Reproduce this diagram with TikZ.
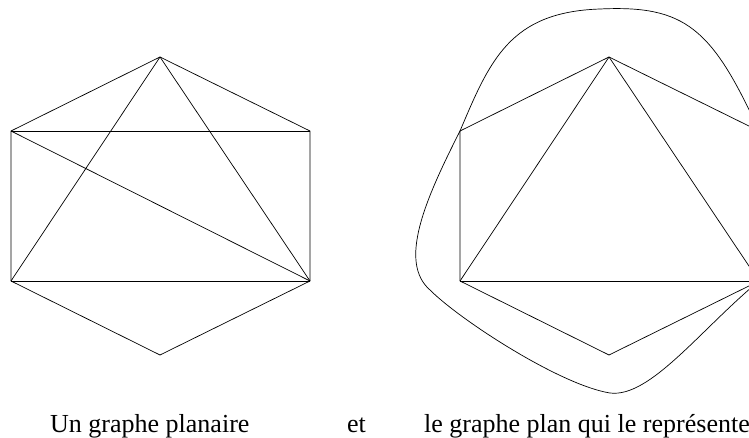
\documentclass[tikz,border=0pt]{standalone}
\usepackage{fontspec}
\setmainfont{Liberation Serif}
\begin{document}
\begin{tikzpicture}[x=1pt,y=-1pt,
  edge/.style={draw=black,line width=0.7pt,line join=round},
  lbl/.style={anchor=base west,inner sep=0pt,font=\fontsize{26}{30}\selectfont}]
\useasboundingbox (0,0) rectangle (749,438);
\clip (0,0) rectangle (749,438);
% left graph
\coordinate (aT) at (160,57);
\coordinate (aUL) at (11,131);
\coordinate (aUR) at (310,131);
\coordinate (aLL) at (11,281);
\coordinate (aLR) at (310,281);
\coordinate (aB) at (160,355);
\draw[edge] (aT) -- (aUL) -- (aLL) -- (aB) -- (aLR) -- (aUR) -- (aT);
\draw[edge] (aUL) -- (aUR);
\draw[edge] (aLL) -- (aLR);
\draw[edge] (aT) -- (aLL);
\draw[edge] (aT) -- (aLR);
\draw[edge] (aUL) -- (aLR);
% right graph
\coordinate (bT) at (609,57);
\coordinate (bUL) at (460,131);
\coordinate (bUR) at (759,131);
\coordinate (bLL) at (460,281);
\coordinate (bLR) at (759,281);
\coordinate (bB) at (609,355);
\coordinate (cTop) at (600,9);
\coordinate (cLeft) at (430,290);
\coordinate (cBot) at (610,393);
\draw[edge] (bT) -- (bUL) -- (bLL) -- (bB) -- (bLR) -- (bUR) -- (bT);
\draw[edge] (bLL) -- (bLR);
\draw[edge] (bT) -- (bLL);
\draw[edge] (bT) -- (bLR);
\draw[edge] (bUL) .. controls (490,60) and (510,12) .. (cTop)
  .. controls (685,5) and (712,28) .. (bUR);
\draw[edge] (bUL) .. controls (425,200) and (398,262) .. (cLeft)
  .. controls (460,320) and (560,385) .. (cBot)
  .. controls (650,398) and (700,330) .. (bLR);
% labels
\node[lbl] (t1) at (50,432) {Un graphe planaire};
\node[lbl] (t2) at (347,432) {et};
\node[lbl] (t3) at (424,432) {le graphe plan qui le représente};
\end{tikzpicture}
\end{document}
